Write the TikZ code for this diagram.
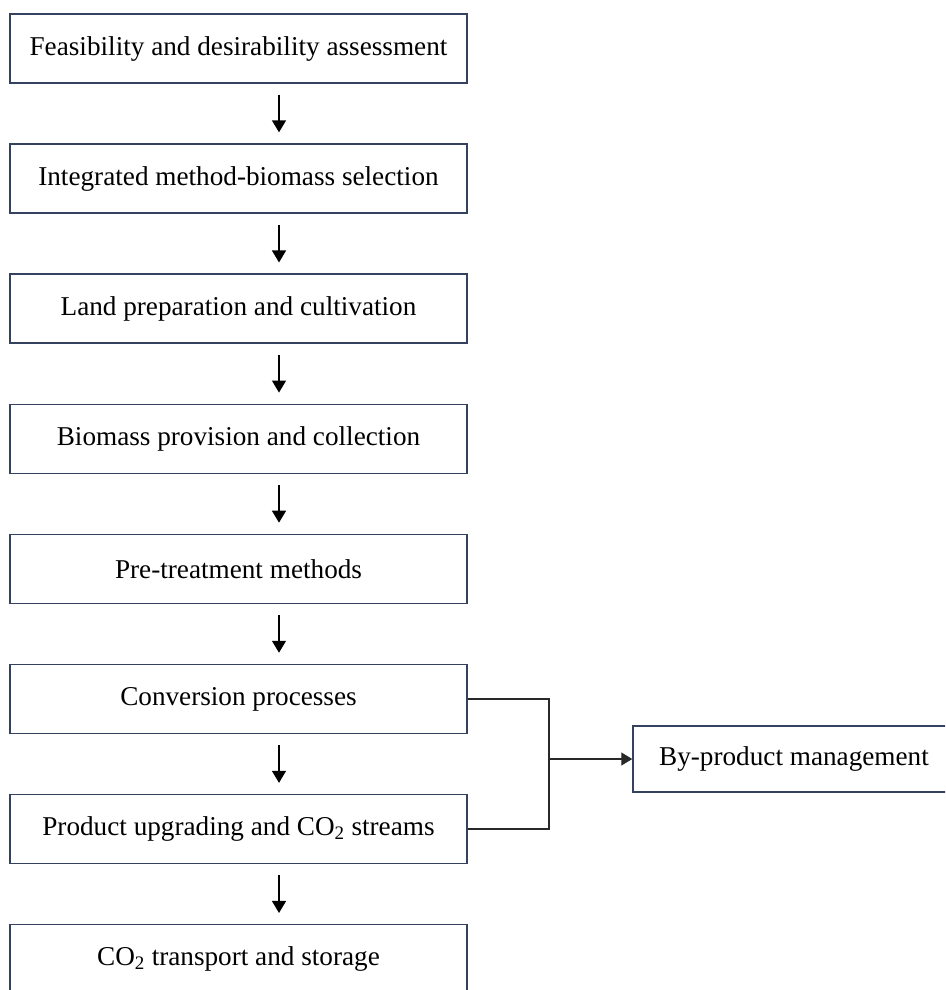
\documentclass[tikz,border=0pt]{standalone}
\usepackage{fontspec}
\setmainfont{Liberation Serif}
\usepackage{tikz}
\usetikzlibrary{arrows.meta}
\definecolor{boxline}{RGB}{52,66,96}
\definecolor{linkline}{RGB}{40,40,40}
\tikzset{
	stage/.style={draw=boxline, line width=1.5pt, minimum width=457pt, minimum height=69pt, inner sep=0pt, font=\fontsize{27.2}{32}\selectfont},
	sidebox/.style={stage, minimum width=322pt, minimum height=66pt},
	flow/.style={line width=1.3pt, draw=black, -{Triangle[length=12pt,width=14pt]}, shorten <=11pt, shorten >=11pt},
	link/.style={line width=1.3pt, draw=linkline}
}

\begin{document}
\begin{tikzpicture}[x=1pt, y=1pt]
		%%%%% START %%%%%
		
		\useasboundingbox (0,0) rectangle (945,-990);
		\clip (0,0) rectangle (945,-990);
		
		\node[stage] (feas) at (238.5,-48.5) {Feasibility and desirability assessment};
		\node[stage] (integ) at (238.5,-178.6) {Integrated method-biomass selection};
		\node[stage] (land) at (238.5,-308.7) {Land preparation and cultivation};
		\node[stage] (prov) at (238.5,-438.8) {Biomass provision and collection};
		\node[stage] (pretr) at (238.5,-568.9) {Pre-treatment methods};
		\node[stage] (conv) at (238.5,-699) {Conversion processes};
		\node[stage] (upgr) at (238.5,-829.1) {Product upgrading and CO\textsubscript{2} streams};
		\node[stage] (store) at (238.5,-959.2) {CO\textsubscript{2} transport and storage};
		
		\node[sidebox] (byprod) at (794,-759) {By-product management};
		
		% arrows down the main column
		\coordinate (ax) at (279,0);
		\draw[flow] (feas.south -| ax) -- (integ.north -| ax);
		\draw[flow] (integ.south -| ax) -- (land.north -| ax);
		\draw[flow] (land.south -| ax) -- (prov.north -| ax);
		\draw[flow] (prov.south -| ax) -- (pretr.north -| ax);
		\draw[flow] (pretr.south -| ax) -- (conv.north -| ax);
		\draw[flow] (conv.south -| ax) -- (upgr.north -| ax);
		\draw[flow] (upgr.south -| ax) -- (store.north -| ax);
		
		% side branch
		\coordinate (join) at (549,-759);
		\draw[link] (conv.east) -| (join);
		\draw[link] (upgr.east) -| (join);
		\draw[link, -{Triangle[length=11pt,width=13pt]}] (join) -- (byprod.west);
		
		%%%%% END %%%%%
\end{tikzpicture}
\end{document}
